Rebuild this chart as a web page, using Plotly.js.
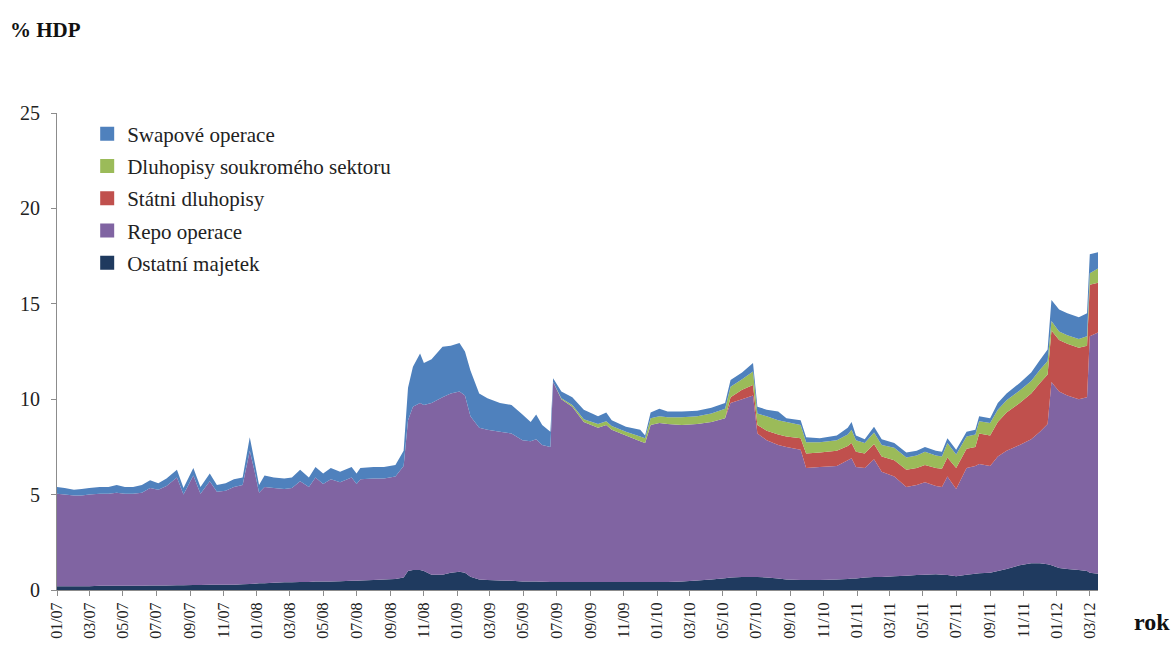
<!DOCTYPE html>
<html>
<head>
<meta charset="utf-8">
<script src="https://cdn.plot.ly/plotly-3.0.1.min.js"></script>
<style>
  html, body { margin: 0; padding: 0; background: #ffffff; }
  #graf { width: 1174px; height: 650px; }
</style>
</head>
<body>
<div id="graf"></div>
<script>
// Rozvaha centrální banky, % HDP (tloušťka jednotlivých vrstev)
const datum = [
  '2007-01-01','2007-01-15','2007-02-01','2007-02-15','2007-03-01','2007-03-20','2007-04-05','2007-04-20',
  '2007-05-05','2007-05-20','2007-06-05','2007-06-20','2007-07-05','2007-07-20','2007-08-08','2007-08-20',
  '2007-09-07','2007-09-20','2007-10-07','2007-10-20','2007-11-05','2007-11-20','2007-12-06','2007-12-19',
  '2007-12-28',
  '2008-01-05','2008-01-15','2008-02-01','2008-02-20','2008-03-05','2008-03-20','2008-04-05','2008-04-17',
  '2008-05-01','2008-05-15','2008-06-01','2008-06-22','2008-07-01','2008-07-08','2008-08-01','2008-08-20',
  '2008-09-10','2008-09-25','2008-10-03','2008-10-12','2008-10-25','2008-11-01','2008-11-15','2008-12-05',
  '2008-12-20',
  '2009-01-05','2009-01-15','2009-01-25','2009-02-10','2009-02-25','2009-03-20','2009-04-10','2009-04-30',
  '2009-05-15','2009-05-25','2009-06-05','2009-06-20','2009-06-25','2009-07-10','2009-07-30','2009-08-20',
  '2009-09-15','2009-09-30','2009-10-10','2009-11-05','2009-12-01','2009-12-10','2009-12-20',
  '2010-01-05','2010-01-20','2010-02-15','2010-03-15','2010-04-10','2010-05-05','2010-05-15','2010-06-05',
  '2010-06-25','2010-07-03','2010-07-20','2010-08-10','2010-08-25','2010-09-20','2010-09-30','2010-10-25',
  '2010-11-25','2010-12-15','2010-12-22','2010-12-30',
  '2011-01-15','2011-02-01','2011-02-15','2011-03-10','2011-04-01','2011-04-20','2011-05-05','2011-05-25',
  '2011-06-05','2011-06-15','2011-07-01','2011-07-20','2011-08-05','2011-08-12','2011-09-01','2011-09-15',
  '2011-10-01','2011-10-25','2011-11-15','2011-12-01','2011-12-15','2011-12-22',
  '2012-01-05','2012-01-20','2012-02-10','2012-02-25','2012-03-01','2012-03-16'
];

const ostatniMajetek = [
  0.20,0.20,0.20,0.20,0.20,0.22,0.22,0.22, 0.22,0.22,0.22,0.24,0.24,0.24,0.25,0.25,
  0.26,0.26,0.27,0.27,0.28,0.28,0.30,0.32, 0.33,
  0.35,0.36,0.38,0.40,0.40,0.42,0.42,0.44, 0.45,0.45,0.46,0.48,0.48,0.50,0.52,0.55,
  0.58,0.65,1.00,1.05,1.05,1.00,0.80,0.80, 0.90,
  0.95,0.90,0.70,0.55,0.52,0.50,0.48,0.45, 0.44,0.44,0.43,0.42,0.42,0.42,0.42,0.42,
  0.42,0.42,0.42,0.42,0.42,0.42,0.42,
  0.42,0.42,0.45,0.50,0.55,0.62,0.65,0.68, 0.68,0.68,0.66,0.60,0.55,0.52,0.52,0.52,
  0.55,0.58,0.60,0.60,
  0.65,0.68,0.68,0.72,0.75,0.78,0.80,0.82, 0.80,0.78,0.72,0.80,0.85,0.88,0.90,1.00,
  1.10,1.30,1.40,1.40,1.35,1.30,
  1.15,1.10,1.05,1.00,0.90,0.85
];

const repoOperace = [
  4.85,4.80,4.75,4.75,4.80,4.83,4.83,4.88, 4.83,4.83,4.88,5.11,5.01,5.21,5.65,4.75,
  5.74,4.79,5.43,4.88,4.92,5.12,5.20,6.98, 5.87,
  4.75,5.04,4.97,4.90,4.95,5.28,4.98,5.46, 5.10,5.35,5.19,5.42,5.07,5.30,5.33,5.30,
  5.37,5.85,7.90,8.55,8.75,8.70,9.00,9.30, 9.40,
  9.45,9.30,8.40,7.95,7.88,7.80,7.72,7.40, 7.36,7.46,7.17,7.08,10.48,9.58,9.18,8.38,
  8.08,8.23,7.98,7.68,7.38,7.28,8.23,
  8.33,8.28,8.20,8.20,8.25,8.38,9.15,9.32, 9.52,7.52,7.19,7.00,6.95,6.83,5.88,5.93,
  5.95,6.22,6.30,5.85,
  5.75,6.17,5.52,5.23,4.65,4.72,4.85,4.63, 4.60,5.17,4.58,5.60,5.65,5.72,5.60,6.00,
  6.20,6.30,6.50,6.90,7.35,9.60,
  9.25,9.10,8.95,9.10,12.40,12.65
];

const statniDluhopisy = [
  0,0,0,0,0,0,0,0, 0,0,0,0,0,0,0,0,
  0,0,0,0,0,0,0,0, 0,
  0,0,0,0,0,0,0,0, 0,0,0,0,0,0,0,0,
  0,0,0,0,0,0,0,0, 0,
  0,0,0,0,0,0,0,0, 0,0,0,0,0,0,0,0,
  0,0,0,0,0,0,0,
  0,0,0,0,0,0,0.30,0.50, 0.55,0.45,0.50,0.55,0.55,0.60,0.75,0.75,
  0.80,0.75,0.80,0.80,
  0.75,0.80,0.80,0.85,0.90,0.90,0.90,0.95, 0.95,1.00,1.10,1.00,1.00,1.60,1.60,1.80,
  2.00,2.20,2.40,2.55,2.60,2.70,
  2.70,2.70,2.70,2.70,2.70,2.60
];

const dluhopisySoukr = [
  0,0,0,0,0,0,0,0, 0,0,0,0,0,0,0,0,
  0,0,0,0,0,0,0,0, 0,
  0,0,0,0,0,0,0,0, 0,0,0,0,0,0,0,0,
  0,0,0,0,0,0,0,0, 0,
  0,0,0,0,0,0,0,0, 0,0,0,0,0,0.05,0.10,0.15,
  0.20,0.20,0.20,0.20,0.25,0.25,0.35,
  0.35,0.35,0.40,0.40,0.45,0.50,0.55,0.55, 0.70,0.60,0.75,0.75,0.75,0.70,0.60,0.55,
  0.55,0.60,0.70,0.60,
  0.55,0.60,0.60,0.65,0.65,0.65,0.70,0.65, 0.65,0.75,0.70,0.65,0.65,0.65,0.65,0.65,
  0.65,0.65,0.65,0.70,0.70,0.50,
  0.45,0.45,0.45,0.50,0.60,0.75
];

const swapoveOperace = [
  0.35,0.35,0.30,0.35,0.35,0.35,0.35,0.40, 0.35,0.35,0.40,0.40,0.35,0.40,0.40,0.35,
  0.40,0.35,0.40,0.35,0.40,0.40,0.40,0.70, 0.50,
  0.40,0.60,0.55,0.55,0.55,0.60,0.50,0.55, 0.55,0.60,0.55,0.55,0.55,0.60,0.60,0.60,
  0.60,0.80,1.70,2.10,2.60,2.20,2.30,2.65, 2.50,
  2.55,2.30,2.40,1.80,1.65,1.50,1.50,1.35, 1.00,1.30,1.05,0.80,0.20,0.35,0.40,0.50,
  0.40,0.45,0.30,0.25,0.35,0.15,0.30,
  0.40,0.30,0.30,0.30,0.30,0.30,0.35,0.35, 0.45,0.35,0.35,0.45,0.20,0.25,0.25,0.20,
  0.25,0.35,0.40,0.25,
  0.20,0.30,0.30,0.25,0.25,0.25,0.25,0.25, 0.25,0.25,0.25,0.25,0.25,0.25,0.25,0.35,
  0.35,0.40,0.45,0.50,0.60,1.10,
  1.15,1.15,1.15,1.20,1.00,0.85
];

const nazvy = ['Ostatní majetek', 'Repo operace', 'Státni dluhopisy',
               'Dluhopisy soukromého sektoru', 'Swapové operace'];
const barvy = ['#1f3a5f', '#8064a2', '#c0504d', '#9bbb59', '#4f81bd'];
const vrstvy = [ostatniMajetek, repoOperace, statniDluhopisy, dluhopisySoukr, swapoveOperace];

const serif = 'Liberation Serif';

// skládané plochy
const traces = vrstvy.map((y, i) => ({
  type: 'scatter',
  x: datum,
  y: y,
  name: nazvy[i],
  stackgroup: 'rozvaha',
  mode: 'none',
  fillcolor: barvy[i],
  line: { width: 0 },
  showlegend: false,
  hoverinfo: 'skip'
}));

// položky legendy se čtvercovým symbolem (pořadí shora dolů)
for (let i = vrstvy.length - 1; i >= 0; i--) {
  traces.push({
    type: 'scatter',
    x: [null], y: [null],
    mode: 'markers',
    name: nazvy[i],
    legendgroup: 'g' + i,
    marker: { symbol: 'square', size: 14, color: barvy[i] },
    showlegend: true,
    hoverinfo: 'skip'
  });
}

const layout = {
  width: 1174,
  height: 650,
  margin: { l: 57, r: 76, t: 113, b: 60 },
  paper_bgcolor: '#ffffff',
  plot_bgcolor: '#ffffff',
  font: { family: serif, color: '#222222', size: 15 },
  showlegend: true,
  legend: {
    x: 0.029, y: 0.999, xanchor: 'left', yanchor: 'top',
    bgcolor: 'rgba(0,0,0,0)',
    font: { family: serif, size: 21, color: '#222222' },
    traceorder: 'grouped',
    tracegroupgap: 2,
    itemclick: false
  },
  xaxis: {
    type: 'date',
    range: ['2007-01-01', '2012-03-16'],
    tick0: '2007-01-01',
    dtick: 'M2',
    tickformat: '%m/%y',
    tickangle: -90,
    ticks: 'outside',
    ticklen: 5,
    tickcolor: '#8c8c8c',
    showline: true,
    linecolor: '#8c8c8c',
    linewidth: 1,
    showgrid: false,
    zeroline: false,
    tickfont: { family: serif, size: 16, color: '#222222' },
    automargin: false
  },
  yaxis: {
    range: [0, 25],
    tick0: 0,
    dtick: 5,
    ticks: 'outside',
    ticklen: 5,
    tickcolor: '#8c8c8c',
    ticklabelstandoff: 7,
    showline: true,
    linecolor: '#8c8c8c',
    linewidth: 1,
    showgrid: false,
    zeroline: false,
    tickfont: { family: serif, size: 20, color: '#222222' },
    automargin: false
  },
  annotations: [
    {
      text: '<b>% HDP</b>',
      xref: 'paper', yref: 'paper',
      x: -0.0475, y: 1.174, xanchor: 'left', yanchor: 'middle',
      showarrow: false,
      font: { family: serif, size: 21, color: '#111111' }
    },
    {
      text: '<b>rok</b>',
      xref: 'paper', yref: 'paper',
      x: 1.0326, y: -0.067, xanchor: 'left', yanchor: 'middle',
      showarrow: false,
      font: { family: serif, size: 24, color: '#111111' }
    }
  ]
};

Plotly.newPlot('graf', traces, layout, { displayModeBar: false, staticPlot: true });
</script>
</body>
</html>
